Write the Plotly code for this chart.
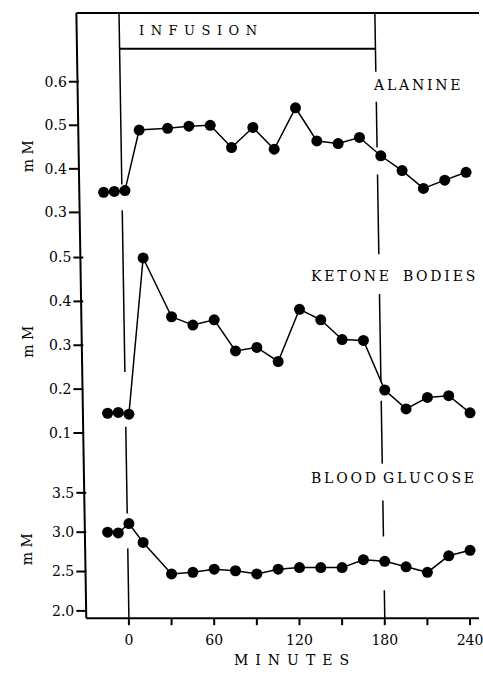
import plotly.graph_objects as go

# ---- data ----
minutes = [-15, -7.5, 0, 10, 30, 45, 60, 75, 90, 105, 120, 135, 150, 165, 180, 195, 210, 225, 240]
alanine = [0.346, 0.348, 0.35, 0.489, 0.493, 0.498, 0.50, 0.449, 0.495, 0.445, 0.54,
           0.464, 0.458, 0.472, 0.43, 0.396, 0.355, 0.374, 0.392]
ketone = [0.145, 0.147, 0.143, 0.499, 0.365, 0.346, 0.358, 0.287, 0.295, 0.263, 0.382,
          0.358, 0.313, 0.311, 0.198, 0.155, 0.181, 0.185, 0.146]
glucose = [3.0, 2.99, 3.11, 2.87, 2.47, 2.49, 2.53, 2.51, 2.47, 2.53, 2.55,
           2.55, 2.55, 2.65, 2.63, 2.56, 2.49, 2.70, 2.77]

x_tickvals = [0, 30, 60, 90, 120, 150, 180, 210, 240]
x_ticktext = ["0", "", "60", "", "120", "", "180", "", "240"]
ala_ticks = [0.3, 0.4, 0.5, 0.6]
ket_ticks = [0.1, 0.2, 0.3, 0.4, 0.5]
glu_ticks = [2.0, 2.5, 3.0, 3.5]

W, H = 483, 680
FONT = "DejaVu Serif"


def px(x):
    return x / W


def py(y):
    return 1 - y / H


# axis geometry
X_RANGE = [-90.7, 246.3]
X2_RANGE = [-87.9, 249.1]
GLU_DOM, GLU_RNG = [py(619), py(480)], [1.920, 3.681]
ALA_DOM, ALA_RNG = [py(228), py(60)], [0.2657, 0.6503]
KET_DOM, KET_RNG = [py(440), py(245)], [0.0870, 0.5302]
ALA_X, KET_X, GLU_X = 78.5, 83, 86   # pixel x of each panel's y-axis


def to_paper(v, dom, rng):
    return dom[0] + (v - rng[0]) / (rng[1] - rng[0]) * (dom[1] - dom[0])


fig = go.Figure()
mk = dict(size=11, color="black")
ln = dict(color="black", width=1.5)
fig.add_trace(go.Scatter(x=minutes, y=alanine, mode="lines+markers", marker=mk, line=ln,
                         xaxis="x2", yaxis="y2", showlegend=False, cliponaxis=False))
fig.add_trace(go.Scatter(x=minutes, y=ketone, mode="lines+markers", marker=mk, line=ln,
                         xaxis="x3", yaxis="y3", showlegend=False, cliponaxis=False))
fig.add_trace(go.Scatter(x=minutes, y=glucose, mode="lines+markers", marker=mk, line=ln,
                         xaxis="x", yaxis="y", showlegend=False, cliponaxis=False))

tickfont = dict(family=FONT, size=14, color="black")
yax_common = dict(showline=False, showgrid=False, zeroline=False, ticks="",
                  tickfont=tickfont, ticklabelstandoff=11,
                  anchor="free", fixedrange=True)

fig.update_layout(
    width=W, height=H, margin=dict(l=0, r=0, t=0, b=0),
    paper_bgcolor="white", plot_bgcolor="rgba(0,0,0,0)",
    xaxis=dict(domain=[0, 1], range=X_RANGE, anchor="free", position=py(620),
               showline=False, showgrid=False, zeroline=False, ticks="",
               tickvals=x_tickvals, ticktext=x_ticktext, tickfont=tickfont,
               ticklabeloverflow="allow", ticklabelstandoff=12),
    xaxis2=dict(domain=[0, 1], range=X2_RANGE, visible=False, anchor="y2"),
    xaxis3=dict(domain=[0, 1], range=X_RANGE, visible=False, anchor="y3"),
    yaxis=dict(domain=GLU_DOM, range=GLU_RNG, position=px(GLU_X),
               tickvals=glu_ticks, ticktext=["2.0", "2.5", "3.0", "3.5"], **yax_common),
    yaxis2=dict(domain=ALA_DOM, range=ALA_RNG, position=px(ALA_X),
                tickvals=ala_ticks, ticktext=["0.3", "0.4", "0.5", "0.6"], **yax_common),
    yaxis3=dict(domain=KET_DOM, range=KET_RNG, position=px(KET_X),
                tickvals=ket_ticks, ticktext=["0.1", "0.2", "0.3", "0.4", "0.5"], **yax_common),
)

shapes = []


def seg(x0, y0, x1, y1, w=2):
    shapes.append(dict(type="line", xref="paper", yref="paper", x0=px(x0), y0=py(y0),
                       x1=px(x1), y1=py(y1), line=dict(color="black", width=w)))


# frame
seg(77, 13, 483, 13)
seg(77, 13, 87, 620)
seg(87, 620, 483, 620)
# infusion box bottom
seg(121, 49, 379, 49)


def lx_left(y):
    return 120 + 10 * (y - 13) / 607


def lx_right(y):
    return 378 + 10 * (y - 13) / 607


for a, b in [(13, 185), (211, 373), (428, 515), (550, 620)]:
    seg(lx_left(a), a, lx_left(b), b, 1.5)
for a, b in [(13, 72), (102, 148), (175, 255), (295, 383), (402, 465), (502, 538), (592, 620)]:
    seg(lx_right(a), a, lx_right(b), b, 1.5)

# tick marks (paper positions derived from each axis' domain and range)
for vals, dom, rng, xpos in [(ala_ticks, ALA_DOM, ALA_RNG, ALA_X),
                             (ket_ticks, KET_DOM, KET_RNG, KET_X),
                             (glu_ticks, GLU_DOM, GLU_RNG, GLU_X)]:
    for v in vals:
        yp = to_paper(v, dom, rng)
        shapes.append(dict(type="line", xref="paper", yref="paper", x0=px(xpos - 9),
                           x1=px(xpos + 1), y0=yp, y1=yp, line=dict(color="black", width=2)))
for v in x_tickvals:
    xp = to_paper(v, [0, 1], X_RANGE)
    shapes.append(dict(type="line", xref="paper", yref="paper", x0=xp, x1=xp,
                       y0=py(620), y1=py(627), line=dict(color="black", width=2)))

fig.update_layout(shapes=shapes)

TS = "\u2009"   # thin space
ES = "\u2002"   # en space


def ann(text, x, y, size=14, angle=0):
    fig.add_annotation(text=text, xref="paper", yref="paper", x=px(x), y=py(y),
                       xanchor="center", yanchor="middle", showarrow=False, textangle=angle,
                       font=dict(family=FONT, size=size, color="black"))


ann(ES.join("INFUSION"), 200, 31, 13)
ann(TS.join("ALANINE"), 420, 85)
ann(TS.join("KETONE") + ES + ES + TS.join("BODIES"), 396, 277)
ann(TS.join("BLOOD") + ES + TS.join("GLUCOSE"), 396, 479)
ann(ES.join("MINUTES"), 294, 662)
ann("m M", 28, 157, 14, -90)
ann("m M", 28, 343, 14, -90)
ann("m M", 28, 551, 14, -90)

fig.write_html("out.html")
